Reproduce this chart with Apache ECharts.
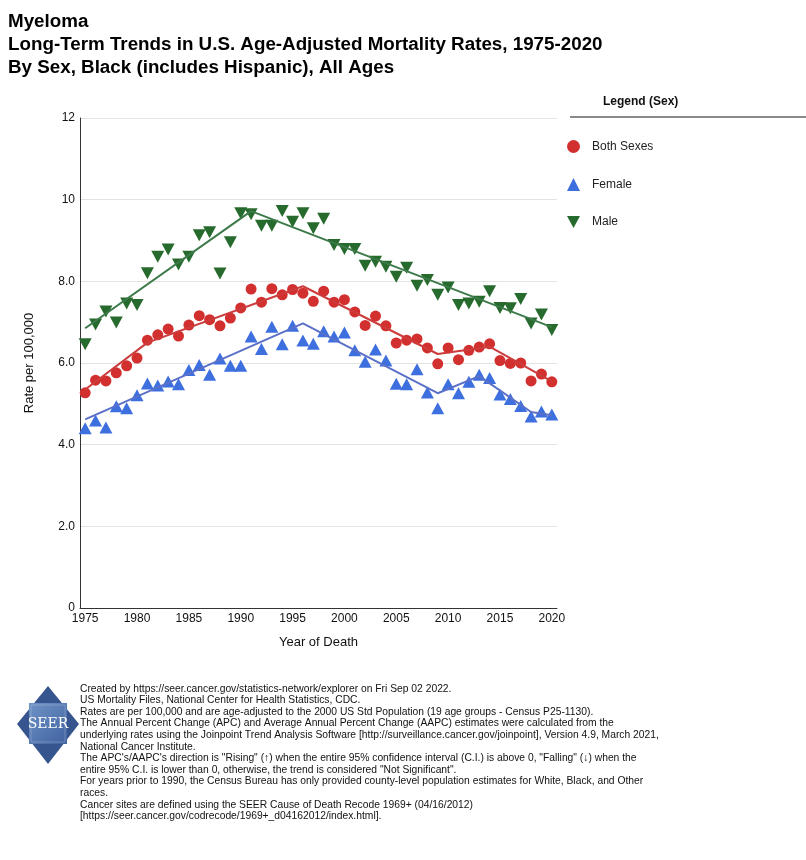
<!DOCTYPE html>
<html>
<head>
<meta charset="utf-8">
<script src="https://cdn.jsdelivr.net/npm/echarts@6/dist/echarts.min.js"></script>
<style>
  html, body { margin: 0; padding: 0; background: #ffffff; }
  #chart { width: 806px; height: 860px; }
</style>
</head>
<body>
<div id="chart"></div>
<script>
// ---- Data ----
var years = ['1975','1976','1977','1978','1979','1980','1981','1982','1983','1984',
             '1985','1986','1987','1988','1989','1990','1991','1992','1993','1994',
             '1995','1996','1997','1998','1999','2000','2001','2002','2003','2004',
             '2005','2006','2007','2008','2009','2010','2011','2012','2013','2014',
             '2015','2016','2017','2018','2019','2020'];

var bothSexes = [5.27,5.58,5.56,5.76,5.93,6.12,6.56,6.69,6.83,6.66,
                 6.93,7.16,7.06,6.91,7.10,7.35,7.81,7.49,7.82,7.67,
                 7.80,7.71,7.51,7.76,7.49,7.55,7.25,6.92,7.15,6.91,
                 6.49,6.56,6.59,6.37,5.98,6.37,6.08,6.31,6.39,6.47,
                 6.06,5.99,6.00,5.56,5.73,5.54];

var female = [4.40,4.59,4.42,4.94,4.89,5.21,5.50,5.45,5.55,5.48,
              5.83,5.95,5.71,6.11,5.93,5.93,6.65,6.34,6.89,6.46,
              6.91,6.55,6.47,6.78,6.65,6.75,6.31,6.03,6.33,6.06,
              5.49,5.48,5.85,5.28,4.89,5.48,5.26,5.54,5.71,5.63,
              5.23,5.12,4.95,4.69,4.81,4.74];

var male = [6.46,6.94,7.26,6.99,7.46,7.42,8.20,8.60,8.78,8.41,
            8.60,9.13,9.20,8.19,8.96,9.67,9.64,9.36,9.36,9.72,
            9.46,9.67,9.30,9.53,8.89,8.79,8.79,8.38,8.48,8.36,
            8.11,8.33,7.89,8.03,7.67,7.85,7.42,7.46,7.50,7.76,
            7.35,7.34,7.57,6.97,7.19,6.81];

// Joinpoint trend lines (joint years and fitted values)
var bothTrendYears = ['1975','1981','1996','2009','2014','2020'];
var bothTrendVals  = [5.35, 6.50, 7.88, 6.22, 6.40, 5.55];
var femaleTrendYears = ['1975','1996','2009','2013','2018','2020'];
var femaleTrendVals  = [4.62, 6.97, 5.26, 5.68, 4.80, 4.72];
var maleTrendYears = ['1975','1991','2020'];
var maleTrendVals  = [6.85, 9.72, 6.88];

var yTicks = [0, 2, 4, 6, 8, 10, 12];
var yTickLabels = ['0', '2.0', '4.0', '6.0', '8.0', '10', '12'];

var titleLines = [
  'Myeloma',
  'Long-Term Trends in U.S. Age-Adjusted Mortality Rates, 1975-2020',
  'By Sex, Black (includes Hispanic), All Ages'
];

var footerLines = [
  'Created by https://seer.cancer.gov/statistics-network/explorer on Fri Sep 02 2022.',
  'US Mortality Files, National Center for Health Statistics, CDC.',
  'Rates are per 100,000 and are age-adjusted to the 2000 US Std Population (19 age groups - Census P25-1130).',
  'The Annual Percent Change (APC) and Average Annual Percent Change (AAPC) estimates were calculated from the',
  'underlying rates using the Joinpoint Trend Analysis Software [http://surveillance.cancer.gov/joinpoint], Version 4.9, March 2021,',
  'National Cancer Institute.',
  'The APC\'s/AAPC\'s direction is "Rising" (\u2191) when the entire 95% confidence interval (C.I.) is above 0, "Falling" (\u2193) when the',
  'entire 95% C.I. is lower than 0, otherwise, the trend is considered "Not Significant".',
  'For years prior to 1990, the Census Bureau has only provided county-level population estimates for White, Black, and Other',
  'races.',
  'Cancer sites are defined using the SEER Cause of Death Recode 1969+ (04/16/2012)',
  '[https://seer.cancer.gov/codrecode/1969+_d04162012/index.html].'
];

// ---- Styles ----
var FONT = "'Liberation Sans', Arial, Helvetica, sans-serif";
var RED = '#d22f2f', RED_LINE = '#cc3c3c';
var BLUE = '#3e6fdf', BLUE_LINE = '#5b70c8';
var GREEN = '#276a2d', GREEN_LINE = '#3c7a4a';
var INV_TRI = 'path://M0,0L12,0L6,11Z';

function pairs(xs, vs) { return xs.map(function (x, i) { return [x, vs[i]]; }); }

var chart = echarts.init(document.getElementById('chart'), null, { renderer: 'canvas' });

var graphics = [];
titleLines.forEach(function (t, i) {
  graphics.push({
    type: 'text', x: 8, y: 12 + i * 23.3, z: 10,
    style: { text: t, font: 'bold 18.8px ' + FONT, fill: '#000' }
  });
});
graphics.push({
  type: 'text', x: 603, y: 96, z: 10,
  style: { text: 'Legend (Sex)', font: 'bold 12px ' + FONT, fill: '#111' }
});
graphics.push({
  type: 'line', z: 10,
  shape: { x1: 570, y1: 117, x2: 806, y2: 117 },
  style: { stroke: '#8a8a8a', lineWidth: 2 }
});
// footer
graphics.push({
  type: 'text', x: 80, y: 683, z: 10, scaleX: 1.0,
  style: { text: footerLines.join('\n'), font: '10.3px ' + FONT, fill: '#111', lineHeight: 11.6 }
});
// SEER logo
graphics.push({
  type: 'group', z: 10,
  children: [
    { type: 'polygon', shape: { points: [[48, 686], [79, 724], [48, 764], [17, 724]] },
      style: { fill: '#36558f' } },
    { type: 'rect', shape: { x: 29, y: 703, width: 38, height: 41 },
      style: { fill: new echarts.graphic.LinearGradient(0, 0, 1, 1, [
        { offset: 0, color: '#6f93c6' }, { offset: 1, color: '#3f62a0' }]) } },
    { type: 'rect', shape: { x: 31, y: 705, width: 34, height: 37 },
      style: { fill: 'none', stroke: 'rgba(255,255,255,0.35)', lineWidth: 0.6 } },
    { type: 'text', x: 48, y: 724,
      style: { text: 'SEER', font: '14px "DejaVu Serif", "Liberation Serif", serif', fill: '#ffffff',
               align: 'center', verticalAlign: 'middle' } }
  ]
});

var option = {
  backgroundColor: '#ffffff',
  animation: false,
  textStyle: { fontFamily: FONT },
  grid: { left: 80, right: 249, top: 118, bottom: 252, containLabel: false },
  legend: {
    orient: 'vertical', left: 562, top: 135,
    itemWidth: 13, itemHeight: 13, itemGap: 25,
    data: ['Both Sexes', 'Female', 'Male'],
    textStyle: { fontSize: 12, color: '#222', fontFamily: FONT, padding: [0, 0, 0, 7] }
  },
  graphic: graphics,
  xAxis: {
    type: 'category', data: years, boundaryGap: true,
    name: 'Year of Death', nameLocation: 'middle', nameGap: 28,
    nameTextStyle: { fontSize: 13, color: '#111', fontFamily: FONT },
    axisLine: { lineStyle: { color: '#333', width: 1 } },
    axisTick: { alignWithLabel: true, interval: 0, length: 4, lineStyle: { color: '#333' } },
    axisLabel: { interval: 4, fontSize: 12, color: '#111', margin: 5, fontFamily: FONT },
    splitLine: { show: false }
  },
  yAxis: {
    type: 'value', min: 0, max: 12, interval: 2,
    name: 'Rate per 100,000', nameLocation: 'middle', nameGap: 44, nameRotate: 90,
    nameTextStyle: { fontSize: 13, color: '#111', fontFamily: FONT },
    axisLine: { show: true, lineStyle: { color: '#333', width: 1 } },
    axisTick: { show: false },
    axisLabel: {
      fontSize: 12, color: '#111', margin: 5, fontFamily: FONT,
      formatter: function (v) { var i = yTicks.indexOf(v); return i >= 0 ? yTickLabels[i] : ''; }
    },
    splitLine: { show: true, lineStyle: { color: '#e3e3e3', width: 1 } }
  },
  series: [
    { name: 'Both Sexes', type: 'scatter', data: bothSexes, symbol: 'circle', symbolSize: 11,
      itemStyle: { color: RED, opacity: 1 }, z: 3 },
    { name: 'Female', type: 'scatter', data: female, symbol: 'triangle', symbolSize: [13, 12],
      itemStyle: { color: BLUE, opacity: 1 }, z: 3 },
    { name: 'Male', type: 'scatter', data: male, symbol: INV_TRI, symbolSize: [13, 12],
      itemStyle: { color: GREEN, opacity: 1 }, z: 3 },
    { name: 'Both Sexes Trend', type: 'line', data: pairs(bothTrendYears, bothTrendVals),
      showSymbol: false, symbol: 'none', lineStyle: { color: RED_LINE, width: 2 }, z: 4, silent: true },
    { name: 'Female Trend', type: 'line', data: pairs(femaleTrendYears, femaleTrendVals),
      showSymbol: false, symbol: 'none', lineStyle: { color: BLUE_LINE, width: 2 }, z: 4, silent: true },
    { name: 'Male Trend', type: 'line', data: pairs(maleTrendYears, maleTrendVals),
      showSymbol: false, symbol: 'none', lineStyle: { color: GREEN_LINE, width: 2 }, z: 4, silent: true }
  ]
};
chart.setOption(option);
</script>
</body>
</html>
